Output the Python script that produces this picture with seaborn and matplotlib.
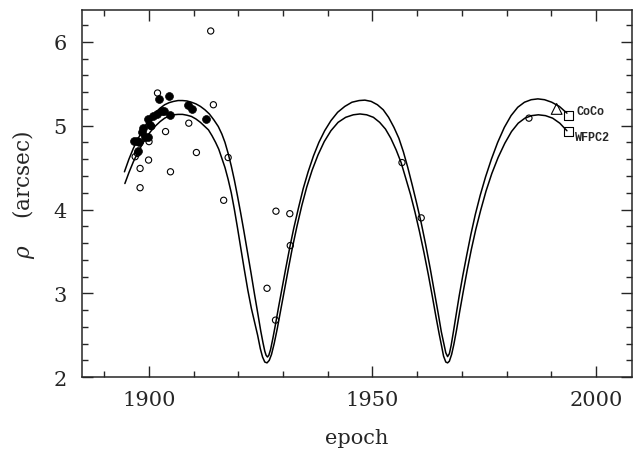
import matplotlib
matplotlib.use("Agg")
import matplotlib.pyplot as plt
import seaborn as sns
from matplotlib.ticker import MultipleLocator

# Orbit curves (outer = higher peak, inner = lower peak)
outer_epoch = [1894.5, 1895.5, 1896.5, 1897.5, 1898.5, 1899.5, 1900.5, 1901.5, 1902.5, 1903.5,
               1904.5, 1905.5, 1906.5, 1907.5, 1908.5, 1909.5, 1910.5, 1911.5, 1912.5, 1913.5,
               1914.5, 1915.5, 1916.3, 1917.0, 1917.7, 1918.4, 1919.1, 1919.8, 1920.5, 1921.2,
               1922.0, 1922.8, 1923.6, 1924.4, 1925.0, 1925.5, 1925.9, 1926.2, 1926.5, 1926.8,
               1927.2, 1927.7, 1928.3, 1929.0, 1929.8, 1930.6, 1931.5, 1932.4, 1933.4, 1934.5,
               1935.6, 1936.8, 1938.0, 1939.3, 1940.7, 1942.2, 1943.8, 1945.4, 1947.0, 1948.3,
               1949.7, 1951.1, 1952.4, 1953.6, 1954.8, 1955.9, 1956.9, 1957.9, 1958.9, 1959.9,
               1960.9, 1961.9, 1962.9, 1963.8, 1964.7, 1965.4, 1966.0, 1966.4, 1966.8, 1967.2,
               1967.6, 1968.1, 1968.7, 1969.4, 1970.2, 1971.1, 1972.0, 1973.0, 1974.1, 1975.3,
               1976.6, 1978.0, 1979.5, 1981.0, 1982.5, 1984.0, 1985.5, 1987.0, 1988.5, 1990.1,
               1991.8, 1993.5]
outer_rho = [4.45, 4.60, 4.73, 4.84, 4.94, 5.03, 5.10, 5.16, 5.21, 5.25,
             5.275, 5.29, 5.30, 5.30, 5.295, 5.28, 5.26, 5.23, 5.19, 5.14,
             5.07, 4.99, 4.90, 4.80, 4.67, 4.52, 4.35, 4.16, 3.96, 3.75,
             3.50, 3.25, 2.99, 2.74, 2.55, 2.41, 2.31, 2.26, 2.24, 2.26,
             2.33, 2.46, 2.63, 2.84, 3.07, 3.30, 3.55, 3.78, 4.01, 4.25,
             4.45, 4.64, 4.80, 4.94, 5.06, 5.16, 5.23, 5.28, 5.30, 5.305,
             5.29, 5.25, 5.19, 5.10, 4.98, 4.85, 4.69, 4.50, 4.29, 4.07,
             3.84, 3.58, 3.30, 3.03, 2.76, 2.54, 2.39, 2.29, 2.245, 2.28,
             2.38, 2.54, 2.74, 2.97, 3.21, 3.46, 3.70, 3.94, 4.17, 4.39,
             4.60, 4.80, 4.98, 5.12, 5.22, 5.28, 5.31, 5.32, 5.31, 5.28,
             5.23, 5.15]

inner_epoch = [1894.6, 1895.5, 1896.5, 1897.5, 1898.5, 1899.5, 1900.5, 1901.5, 1902.5, 1903.5,
               1904.5, 1905.5, 1906.5, 1907.5, 1908.5, 1909.5, 1910.5, 1911.5, 1912.5, 1913.3,
               1914.1, 1914.9, 1915.6, 1916.3, 1917.0, 1917.7, 1918.4, 1919.1, 1919.8, 1920.5,
               1921.3, 1922.1, 1922.9, 1923.6, 1924.3, 1924.9, 1925.4, 1925.9, 1926.4, 1926.9,
               1927.4, 1928.0, 1928.7, 1929.5, 1930.3, 1931.2, 1932.1, 1933.1, 1934.2, 1935.3,
               1936.5, 1937.8, 1939.2, 1940.7, 1942.3, 1944.0, 1945.7, 1947.2, 1948.7, 1950.2,
               1951.6, 1952.9, 1954.1, 1955.3, 1956.4, 1957.4, 1958.5, 1959.5, 1960.5, 1961.5,
               1962.5, 1963.4, 1964.2, 1964.9, 1965.5, 1965.9, 1966.4, 1966.8, 1967.2, 1967.7,
               1968.2, 1968.8, 1969.5, 1970.3, 1971.2, 1972.1, 1973.1, 1974.2, 1975.4, 1976.7,
               1978.1, 1979.6, 1981.1, 1982.6, 1984.1, 1985.6, 1987.1, 1988.7, 1990.3, 1991.9,
               1993.5]
inner_rho = [4.31, 4.44, 4.57, 4.68, 4.78, 4.87, 4.94, 5.00, 5.05, 5.09,
             5.115, 5.13, 5.135, 5.135, 5.125, 5.11, 5.08, 5.04, 4.99, 4.95,
             4.88, 4.80, 4.72, 4.61, 4.50, 4.36, 4.20, 4.00, 3.78, 3.55,
             3.29, 3.04, 2.82, 2.66, 2.50, 2.34, 2.24, 2.18, 2.17, 2.20,
             2.27, 2.40, 2.58, 2.81, 3.04, 3.30, 3.55, 3.80, 4.05, 4.27,
             4.47, 4.65, 4.81, 4.94, 5.04, 5.10, 5.13, 5.14, 5.13, 5.10,
             5.04, 4.96, 4.85, 4.71, 4.56, 4.38, 4.18, 3.97, 3.74, 3.49,
             3.22, 2.96, 2.72, 2.52, 2.36, 2.25, 2.18, 2.17, 2.19, 2.27,
             2.39, 2.56, 2.78, 3.02, 3.28, 3.52, 3.76, 3.99, 4.22, 4.43,
             4.62, 4.79, 4.93, 5.03, 5.09, 5.12, 5.13, 5.12, 5.09, 5.03,
             4.94]

# Measurements: filled circles
filled_epoch = [1896.6, 1897.2, 1897.8, 1897.6, 1898.4, 1898.7, 1899.0, 1899.7, 1899.8, 1900.2,
                1901.0, 1901.8, 1902.3, 1902.8, 1903.3, 1904.4, 1904.7, 1908.8, 1909.6, 1912.7]
filled_rho = [4.82, 4.82, 4.81, 4.70, 4.93, 4.97, 4.87, 4.87, 5.08, 5.01,
              5.11, 5.14, 5.32, 5.17, 5.18, 5.35, 5.13, 5.25, 5.20, 5.08]

# Measurements: open circles
open_epoch = [1896.9, 1897.4, 1898.0, 1898.0, 1899.9, 1900.0, 1900.6, 1901.9, 1903.7, 1904.8,
              1908.9, 1910.6, 1913.8, 1914.4, 1916.7, 1917.7, 1926.4, 1928.3, 1928.4, 1931.5,
              1931.6, 1956.6, 1960.9, 1985.0]
open_rho = [4.63, 4.67, 4.49, 4.26, 4.59, 4.81, 4.99, 5.39, 4.93, 4.45,
            5.03, 4.68, 6.13, 5.25, 4.11, 4.62, 3.06, 2.68, 3.98, 3.95,
            3.57, 4.56, 3.90, 5.09]

coco_epoch = [1991.2]
coco_rho = [5.20]
wfpc2_epoch = [1993.8, 1993.8]
wfpc2_rho = [5.12, 4.93]
tags = ["CoCo", "WFPC2"]
tag_epoch = [1995.6, 1995.2]
tag_rho = [5.18, 4.87]

sns.set_style("ticks")
plt.rcParams["font.family"] = ["DejaVu Serif"]
plt.rcParams["mathtext.fontset"] = "dejavuserif"

fig = plt.figure(figsize=(6.33, 4.60), dpi=100)
ax = fig.add_axes([0.1295, 0.178, 0.8685, 0.798])

sns.lineplot(x=outer_epoch, y=outer_rho, ax=ax, color="black", lw=1.1, sort=False, estimator=None)
sns.lineplot(x=inner_epoch, y=inner_rho, ax=ax, color="black", lw=1.1, sort=False, estimator=None)
sns.scatterplot(x=open_epoch, y=open_rho, ax=ax, marker="o", s=20, facecolor="none",
                edgecolor="black", linewidth=0.8, zorder=3)
sns.scatterplot(x=filled_epoch, y=filled_rho, ax=ax, marker="o", s=32, color="black",
                edgecolor="black", linewidth=0.5, zorder=4)
sns.scatterplot(x=coco_epoch, y=coco_rho, ax=ax, marker="^", s=60, facecolor="none",
                edgecolor="black", linewidth=0.8, zorder=4)
sns.scatterplot(x=wfpc2_epoch, y=wfpc2_rho, ax=ax, marker="s", s=38, facecolor="none",
                edgecolor="black", linewidth=0.8, zorder=4)
for t, xe, yr in zip(tags, tag_epoch, tag_rho):
    ax.text(xe, yr, t, family="Liberation Mono", fontweight="bold", fontsize=8.5,
            ha="left", va="center")

ax.set_xlim(1885, 2008)
ax.set_ylim(2, 6.38)
ax.xaxis.set_major_locator(MultipleLocator(50))
ax.xaxis.set_minor_locator(MultipleLocator(10))
ax.yaxis.set_major_locator(MultipleLocator(1))
ax.yaxis.set_minor_locator(MultipleLocator(0.2))
ax.tick_params(which="both", direction="in", top=True, right=True, width=1.0, labelsize=15)
ax.tick_params(which="major", length=8, pad=9)
ax.tick_params(which="minor", length=4)
ax.tick_params(axis="y", pad=11)
for s in ax.spines.values():
    s.set_linewidth(1.1)
    s.set_visible(True)

ax.set_xlabel("epoch", fontsize=15, labelpad=14)
ax.set_ylabel(r"$\rho$    (arcsec)", fontsize=15.5, labelpad=12)

fig.savefig("out.png", dpi=100)
